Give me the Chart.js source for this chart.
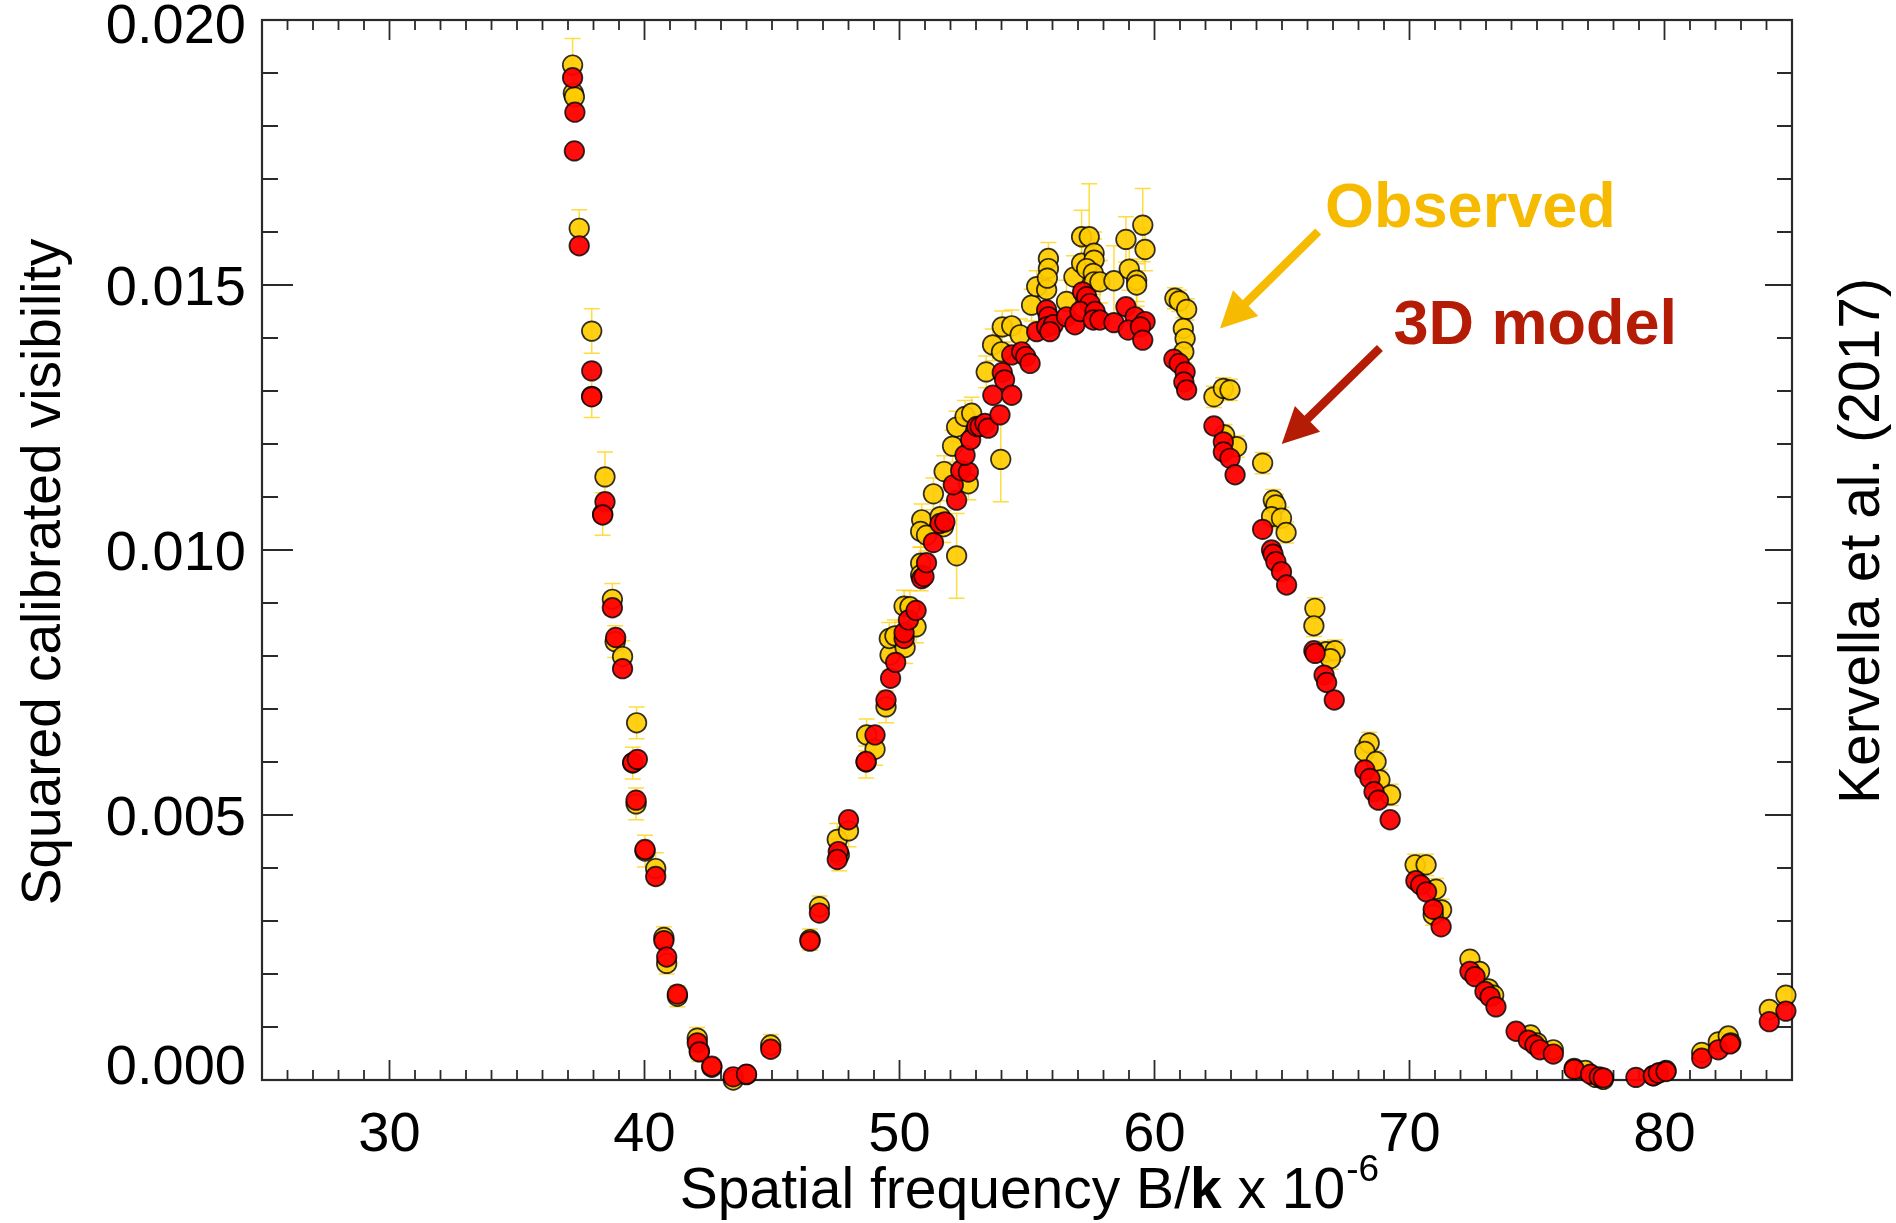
<!DOCTYPE html>
<html>
<head>
<meta charset="utf-8">
<script src="https://cdn.jsdelivr.net/npm/chart.js@4.4.1/dist/chart.umd.min.js"></script>
<style>
html,body{margin:0;padding:0;background:#fff;}
canvas{display:block;}
</style>
</head>
<body>
<canvas id="c" width="1896" height="1223"></canvas>
<script>
// ---------- DATA ----------
const obsX = [37.18,37.21,37.25,37.44,37.93,37.93,38.45,38.36,38.74,38.85,39.14,39.69,39.54,39.67,40.02,40.44,40.76,40.87,41.29,42.07,42.15,42.64,43.48,44.0,44.95,
  46.49,46.86,47.56,47.64,48.0,48.69,48.71,49.04,49.47,49.63,49.6,49.82,50.22,50.65,50.18,50.41,50.83,50.83,50.87,50.83,51.06,51.59,51.72,51.33,52.24,51.75,52.7,52.08,52.24,52.57,52.83,53.97,
  53.4,53.65,54.0,54.03,54.4,54.73,55.18,55.38,55.77,55.84,55.84,55.8,56.55,56.84,57.14,57.44,57.14,57.63,57.63,57.34,57.6,57.63,57.86,58.41,58.88,59.54,59.63,59.01,59.3,59.3,
  60.8,60.97,61.26,61.13,61.2,61.15,62.33,62.7,62.96,62.75,63.22,64.24,64.66,64.76,64.59,64.98,65.16,66.29,66.25,66.73,67.08,66.9,68.42,68.25,68.69,68.84,69.26,
  70.22,70.65,71.04,71.26,70.93,72.37,72.75,73.1,73.3,74.75,75.0,75.64,76.46,76.9,77.3,77.6,79.56,79.8,80.06,81.46,82.11,82.5,82.6,84.11,84.76];
const obsY = [0.01915,0.01862,0.01855,0.01607,0.01413,0.01290,0.01138,0.01068,0.00907,0.00827,0.00799,0.00674,0.00598,0.00521,0.00432,0.00399,0.00269,0.00220,0.00158,0.00079,0.00055,0.00024,0.00000,0.00010,0.00066,
  0.00265,0.00327,0.00454,0.00425,0.00470,0.00600,0.00651,0.00624,0.00704,0.00802,0.00833,0.00838,0.00816,0.00855,0.00894,0.00893,0.00975,0.00953,0.01057,0.01035,0.01028,0.01063,0.01044,0.01106,0.00989,0.01148,0.01125,0.01196,0.01232,0.01252,0.01258,0.01171,
  0.01336,0.01387,0.01374,0.01421,0.01423,0.01406,0.01462,0.01497,0.01491,0.01550,0.01531,0.01513,0.01469,0.01515,0.01591,0.01591,0.01541,0.01560,0.01547,0.01531,0.01522,0.01506,0.01506,0.01508,0.01586,0.01613,0.01567,0.01530,0.01509,0.01500,
  0.01475,0.01470,0.01454,0.01418,0.01399,0.01374,0.01289,0.01305,0.01302,0.01217,0.01195,0.01164,0.01094,0.01085,0.01063,0.01060,0.01033,0.00890,0.00857,0.00808,0.00810,0.00795,0.00636,0.00620,0.00601,0.00566,0.00538,
  0.00406,0.00406,0.00360,0.00321,0.00312,0.00228,0.00205,0.00172,0.00160,0.00085,0.00070,0.00057,0.00022,0.00018,0.00005,0.00001,0.00008,0.00014,0.00018,0.00052,0.00072,0.00083,0.00070,0.00133,0.00160];
const obsErr = [0.0005,0.0004,0.0004,0.00035,0.00042,0.0004,0.00047,0.0004,0.0003,0.0003,0.0003,0.0003,0.0003,0.0003,0.0003,0.0003,0.0002,0.0002,0.0002,0.0002,0.0002,0.0001,0.0001,0.0001,0.0002,
  0.0002,0.0002,0.0003,0.0003,0.0003,0.0003,0.0003,0.0003,0.0003,0.0003,0.0003,0.0003,0.0003,0.0003,0.0003,0.0003,0.0003,0.0003,0.0003,0.0003,0.0003,0.0003,0.0003,0.0003,0.0008,0.0003,0.0003,0.0003,0.0003,0.0003,0.0003,0.0008,
  0.0003,0.0003,0.0003,0.0003,0.0003,0.0003,0.0003,0.0003,0.0003,0.0003,0.0003,0.0003,0.0004,0.0004,0.0005,0.0010,0.0004,0.0004,0.0004,0.0004,0.0004,0.0004,0.0004,0.00066,0.00043,0.00069,0.0004,0.0004,0.0004,0.0004,
  0.0002,0.0002,0.0002,0.0002,0.0002,0.0002,0.0002,0.0002,0.0002,0.0002,0.0002,0.0002,0.0002,0.0002,0.0002,0.0002,0.0002,0.0002,0.0002,0.0002,0.0002,0.0002,0.0002,0.0002,0.0002,0.0002,0.0002,
  0.0002,0.0002,0.0002,0.0002,0.0002,0.0001,0.0001,0.0001,0.0001,0.0001,0.0001,0.0001,0.0001,0.0001,0.0001,0.0001,0.0001,0.0001,0.0001,0.0001,0.0001,0.0001,0.0001,0.0001,0.0001];

const modX = [37.18,37.27,37.25,37.44,37.93,37.93,38.45,38.36,38.74,38.87,39.14,39.54,39.72,39.67,40.02,40.44,40.76,40.87,41.29,42.07,42.15,42.64,43.48,44.0,44.95,
  46.49,46.86,47.6,47.56,48.0,48.69,49.04,49.47,49.65,49.85,50.18,50.18,50.35,50.65,50.87,50.96,51.06,51.33,51.59,51.78,52.24,52.11,52.4,52.7,52.57,52.79,53.03,53.16,53.35,53.48,53.94,53.66,
  54.03,54.12,54.4,54.4,54.79,54.95,55.12,55.38,55.77,55.84,55.77,56.03,55.9,56.55,56.88,57.18,57.34,57.47,57.08,57.67,57.6,57.86,58.41,58.88,59.24,59.63,58.97,59.45,59.54,
  60.76,60.97,61.2,61.15,61.26,62.33,62.7,62.7,62.96,63.16,64.24,64.59,64.65,64.76,64.98,65.18,66.25,66.3,66.65,66.75,67.05,68.25,68.45,68.61,68.78,69.24,
  70.25,70.44,70.67,70.93,71.24,72.37,72.57,72.96,73.16,73.39,74.18,74.66,74.92,75.12,75.64,76.46,77.1,77.44,77.6,78.88,79.56,79.76,80.06,81.46,82.11,82.57,84.11,84.76];
const modY = [0.01891,0.01826,0.01753,0.01574,0.01338,0.01289,0.01091,0.01066,0.00891,0.00835,0.00776,0.00599,0.00605,0.00528,0.00435,0.00384,0.00263,0.00232,0.00162,0.00070,0.00053,0.00026,0.00006,0.00011,0.00058,
  0.00262,0.00315,0.00431,0.00416,0.00491,0.00601,0.00651,0.00717,0.00758,0.00788,0.00833,0.00844,0.00868,0.00886,0.00946,0.00950,0.00976,0.01014,0.01050,0.01053,0.01094,0.01123,0.01150,0.01147,0.01179,0.01208,0.01233,0.01233,0.01239,0.01230,0.01255,0.01292,
  0.01335,0.01321,0.01292,0.01368,0.01374,0.01365,0.01352,0.01412,0.01453,0.01440,0.01421,0.01425,0.01412,0.01440,0.01425,0.01487,0.01478,0.01465,0.01450,0.01450,0.01434,0.01434,0.01429,0.01459,0.01440,0.01431,0.01415,0.01421,0.01396,
  0.01360,0.01352,0.01336,0.01317,0.01302,0.01234,0.01204,0.01185,0.01173,0.01142,0.01039,0.01000,0.00992,0.00978,0.00959,0.00934,0.00810,0.00805,0.00764,0.00750,0.00717,0.00585,0.00569,0.00544,0.00528,0.00491,
  0.00376,0.00368,0.00355,0.00322,0.00289,0.00205,0.00195,0.00167,0.00157,0.00138,0.00092,0.00075,0.00066,0.00057,0.00049,0.00020,0.00011,0.00006,0.00004,0.00005,0.00008,0.00013,0.00016,0.00041,0.00057,0.00068,0.00110,0.00130];

const xTickValues = [30,40,50,60,70,80];
const xTickLabels = ['30','40','50','60','70','80'];
const yTickValues = [0,0.005,0.010,0.015,0.020];
const yTickLabels = ['0.000','0.005','0.010','0.015','0.020'];

const xTitleParts = ['Spatial frequency B/','k',' x 10','-6'];
const yTitle = 'Squared calibrated visibility';
const creditText = 'Kervella et al. (2017)';
const obsLabel = 'Observed';
const modLabel = '3D model';

// ---------- STYLE ----------
const YELLOW = 'rgba(255,204,0,0.92)';
const RED = 'rgba(255,0,0,0.95)';
const OBS_TEXT = '#F6BA00';
const MOD_TEXT = '#B41C06';
const AXIS = '#2a2a2a';
const FONT = '"Liberation Sans", Arial, Helvetica, sans-serif';

function pts(xs, ys){ return xs.map((x,i)=>({x:x, y:ys[i]})); }

const decor = {
  id: 'decor',
  beforeDatasetsDraw(chart){
    const ctx = chart.ctx, xs = chart.scales.x, ys = chart.scales.y;
    const {left,right,top,bottom} = chart.chartArea;
    ctx.save();
    ctx.strokeStyle = 'rgba(255,208,0,0.75)';
    ctx.lineWidth = 1.5;
    for (let i=0;i<obsX.length;i++){
      const px = xs.getPixelForValue(obsX[i]);
      const p1 = ys.getPixelForValue(obsY[i]+obsErr[i]);
      const p2 = ys.getPixelForValue(obsY[i]-obsErr[i]);
      ctx.beginPath();
      ctx.moveTo(px,p1); ctx.lineTo(px,p2);
      ctx.moveTo(px-8,p1); ctx.lineTo(px+8,p1);
      ctx.moveTo(px-8,p2); ctx.lineTo(px+8,p2);
      ctx.stroke();
    }
    ctx.strokeStyle = AXIS;
    ctx.lineWidth = 1.8;
    ctx.beginPath();
    for (let v=25; v<=85; v++){
      const px = xs.getPixelForValue(v);
      const major = (v % 10 === 0);
      const len = major ? 20 : 10;
      ctx.moveTo(px,bottom); ctx.lineTo(px,bottom-len);
      ctx.moveTo(px,top); ctx.lineTo(px,top+len);
    }
    for (let k=0; k<=20; k++){
      const py = ys.getPixelForValue(k*0.001);
      const major = (k % 5 === 0);
      ctx.moveTo(left,py); ctx.lineTo(left+(major?31:16),py);
      ctx.moveTo(right,py); ctx.lineTo(right-(major?27:15),py);
    }
    ctx.stroke();
    ctx.lineWidth = 2.2;
    ctx.strokeRect(left,top,right-left,bottom-top);
    ctx.restore();
  },
  afterDraw(chart){
    const ctx = chart.ctx, xs = chart.scales.x, ys = chart.scales.y;
    const {left,right,top,bottom} = chart.chartArea;
    ctx.save();
    ctx.fillStyle = '#000';
    ctx.font = '56px ' + FONT;
    ctx.textBaseline = 'alphabetic';
    ctx.textAlign = 'center';
    xTickValues.forEach((v,i)=>{
      ctx.fillText(xTickLabels[i], xs.getPixelForValue(v), bottom + 71);
    });
    ctx.textAlign = 'right';
    yTickValues.forEach((v,i)=>{
      let py = ys.getPixelForValue(v);
      if (i === 0) py -= 16;
      if (i === yTickValues.length-1) py += 3;
      ctx.fillText(yTickLabels[i], left - 16, py + 20);
    });
    const fN = '57px ' + FONT, fB = 'bold 57px ' + FONT, fS = '37px ' + FONT;
    ctx.font = fN; const w0 = ctx.measureText(xTitleParts[0]).width;
    ctx.font = fB; const w1 = ctx.measureText(xTitleParts[1]).width;
    ctx.font = fN; const w2 = ctx.measureText(xTitleParts[2]).width;
    ctx.font = fS; const w3 = ctx.measureText(xTitleParts[3]).width;
    const total = w0+w1+w2+w3;
    let x0 = (left+right)/2 - total/2 + 2;
    const by = 1208;
    ctx.textAlign = 'left';
    ctx.font = fN; ctx.fillText(xTitleParts[0], x0, by); x0 += w0;
    ctx.font = fB; ctx.fillText(xTitleParts[1], x0, by); x0 += w1;
    ctx.font = fN; ctx.fillText(xTitleParts[2], x0, by); x0 += w2;
    ctx.font = fS; ctx.fillText(xTitleParts[3], x0+1, by-27);
    ctx.save();
    ctx.translate(60, 572);
    ctx.rotate(-Math.PI/2);
    ctx.textAlign = 'center';
    ctx.font = '55px ' + FONT;
    ctx.fillText(yTitle, 0, 0);
    ctx.restore();
    ctx.save();
    ctx.translate(1879, 541);
    ctx.rotate(-Math.PI/2);
    ctx.textAlign = 'center';
    ctx.font = '57px ' + FONT;
    ctx.fillText(creditText, 0, 0);
    ctx.restore();
    ctx.textAlign = 'left';
    ctx.font = 'bold 63px ' + FONT;
    ctx.fillStyle = OBS_TEXT;
    ctx.fillText(obsLabel, xs.getPixelForValue(66.69), ys.getPixelForValue(0.01609));
    ctx.fillStyle = MOD_TEXT;
    ctx.fillText(modLabel, xs.getPixelForValue(69.37), ys.getPixelForValue(0.01389));
    function arrow(xa,ya,xb,yb,color){
      const X1 = xs.getPixelForValue(xa), Y1 = ys.getPixelForValue(ya);
      const X2 = xs.getPixelForValue(xb), Y2 = ys.getPixelForValue(yb);
      const dx = X2-X1, dy = Y2-Y1, L = Math.hypot(dx,dy);
      const ux = dx/L, uy = dy/L;
      const hl = 36, hw = 18;
      const bx = X2-ux*hl, by2 = Y2-uy*hl;
      ctx.strokeStyle = color; ctx.fillStyle = color;
      ctx.lineWidth = 8.5; ctx.lineCap = 'butt';
      ctx.beginPath(); ctx.moveTo(X1,Y1); ctx.lineTo(bx+ux*4,by2+uy*4); ctx.stroke();
      ctx.beginPath();
      ctx.moveTo(X2,Y2);
      ctx.lineTo(bx - uy*hw, by2 + ux*hw);
      ctx.lineTo(bx + uy*hw, by2 - ux*hw);
      ctx.closePath(); ctx.fill();
    }
    arrow(66.42,0.01601,62.57,0.01418,OBS_TEXT);
    arrow(68.84,0.01381,64.99,0.01200,MOD_TEXT);
    ctx.restore();
  }
};

new Chart(document.getElementById('c'), {
  type: 'scatter',
  data: {
    datasets: [
      { label: '3D model', data: pts(modX,modY), order: 0, clip: false,
        backgroundColor: RED, borderColor: 'rgba(0,0,0,0.8)', borderWidth: 1.7,
        pointRadius: 9.8, pointHoverRadius: 9.8 },
      { label: 'Observed', data: pts(obsX,obsY), order: 1, clip: false,
        backgroundColor: YELLOW, borderColor: 'rgba(0,0,0,0.8)', borderWidth: 1.7,
        pointRadius: 9.8, pointHoverRadius: 9.8 }
    ]
  },
  options: {
    responsive: false,
    animation: false,
    devicePixelRatio: 1,
    layout: { padding: { left: 0, right: 104, top: 20, bottom: 0 } },
    plugins: { legend: { display: false }, tooltip: { enabled: false } },
    scales: {
      x: { type: 'linear', min: 25, max: 85,
           ticks: { display: false }, grid: { display: false }, border: { display: false },
           afterFit(s){ s.height = 143; } },
      y: { type: 'linear', min: 0, max: 0.02,
           ticks: { display: false }, grid: { display: false }, border: { display: false },
           afterFit(s){ s.width = 262; } }
    }
  },
  plugins: [decor]
});
</script>
</body>
</html>
